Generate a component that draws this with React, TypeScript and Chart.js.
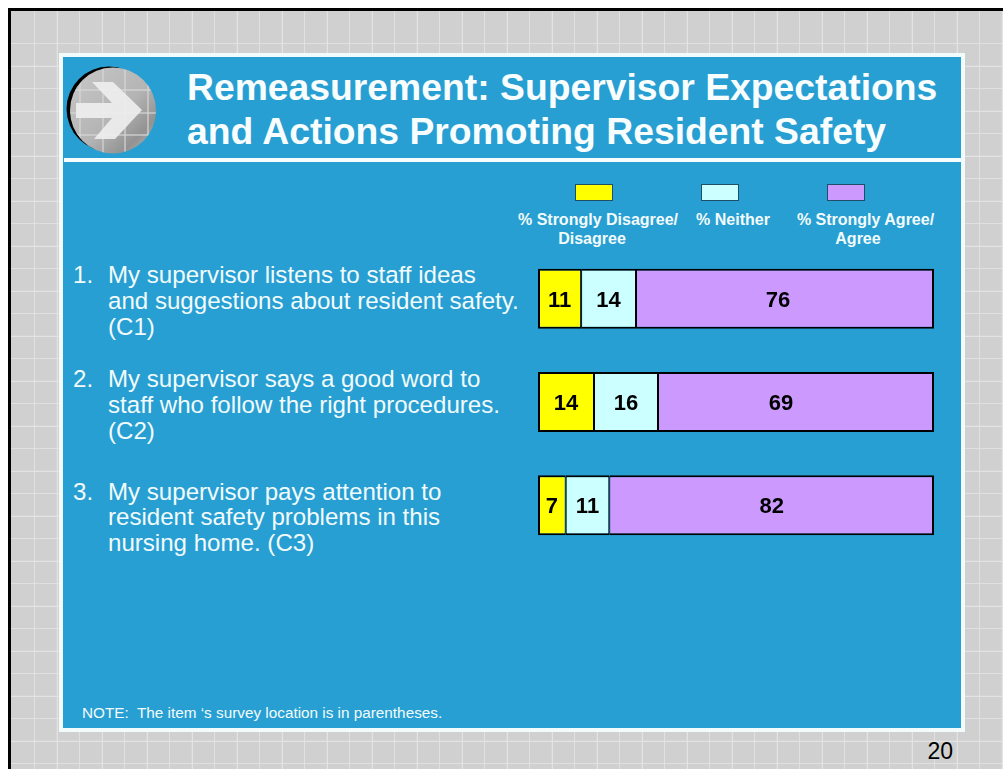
import React, { useEffect, useRef } from "react";
import { Chart, registerables } from "chart.js";

Chart.register(...registerables);

const categories = ["C1", "C2", "C3"];
const disagree = [11, 14, 7];
const neither = [14, 16, 11];
const agree = [76, 69, 82];
const seriesNames = ["% Strongly Disagree/ Disagree", "% Neither", "% Strongly Agree/ Agree"];
const seriesColors = ["#ffff00", "#ccffff", "#cc99ff"];
const rawSeries = [disagree, neither, agree];
const rowTotals = categories.map((_, i) => disagree[i] + neither[i] + agree[i]);

const questions = [
  { n: "1.", lines: ["My supervisor listens to staff ideas", "and suggestions about resident safety.", "(C1)"], top: 263, step: 26 },
  { n: "2.", lines: ["My supervisor says a good word to", "staff who follow the right procedures.", "(C2)"], top: 367, step: 26 },
  { n: "3.", lines: ["My supervisor pays attention to", "resident safety problems in this", "nursing home. (C3)"], top: 480, step: 25.3 },
];

const FONT = '"Liberation Sans", Arial, sans-serif';
const TEXT = "#f2fbfb";
const agreeLabelShift = [-7, -15, 0];

const valueLabels = {
  id: "valueLabels",
  afterDatasetsDraw(chart: any) {
    const ctx = chart.ctx;
    ctx.save();
    ctx.font = `bold 22px ${FONT}`;
    ctx.fillStyle = "#000";
    ctx.textAlign = "center";
    ctx.textBaseline = "middle";
    chart.data.datasets.forEach((_: any, d: number) => {
      chart.getDatasetMeta(d).data.forEach((bar: any, i: number) => {
        const p = bar.getProps(["x", "y", "base"], true);
        const shift = d === 2 ? agreeLabelShift[i] : 0;
        ctx.fillText(String(rawSeries[d][i]), (p.x + p.base) / 2 + shift, p.y + 2);
      });
    });
    ctx.restore();
  },
};

function Txt({ x, y, size, bold, color, children, cx }: any) {
  return (
    <div
      style={{
        position: "absolute",
        left: cx !== undefined ? cx - 150 : x,
        top: y,
        width: cx !== undefined ? 300 : undefined,
        fontFamily: FONT,
        fontSize: size,
        fontWeight: bold ? 700 : 400,
        color,
        whiteSpace: "pre",
        lineHeight: 1,
        textAlign: cx !== undefined ? "center" : "left",
      }}
    >
      {children}
    </div>
  );
}

function Icon() {
  const vs = [80, 103, 125, 148];
  const hs = [90, 113, 135];
  return (
    <svg width={1003} height={769} style={{ position: "absolute", left: 0, top: 0 }}>
      <defs>
        <linearGradient id="g" x1="0" y1="0" x2="1" y2="1">
          <stop offset="0" stopColor="#c8c8c8" />
          <stop offset="0.55" stopColor="#b4b4b4" />
          <stop offset="0.8" stopColor="#929292" />
          <stop offset="1" stopColor="#c4c4c4" />
        </linearGradient>
        <clipPath id="c">
          <circle cx={113} cy={110.5} r={43} />
        </clipPath>
      </defs>
      <circle cx={109} cy={109} r={42.5} fill="#000" />
      <circle cx={113} cy={110.5} r={43} fill="url(#g)" />
      <g clipPath="url(#c)" stroke="#d8d8d8" strokeOpacity={0.8} strokeWidth={1.5}>
        {vs.map((x) => (
          <line key={x} x1={x} x2={x} y1={60} y2={160} />
        ))}
        {hs.map((y) => (
          <line key={y} x1={60} x2={160} y1={y} y2={y} />
        ))}
      </g>
      <polygon
        points="92,82 113,82 142,110 115,139 94,139 112,118 76,118 76,103 112,103"
        fill="#eeeeee"
        fillOpacity={0.92}
      />
    </svg>
  );
}

export default function App() {
  const ref = useRef<HTMLCanvasElement>(null);
  useEffect(() => {
    const widths = [
      { top: 2, bottom: 2, left: 2, right: 1 },
      { top: 2, bottom: 2, left: 1, right: 1 },
      { top: 2, bottom: 2, left: 1, right: 2 },
    ];
    const chart = new Chart(ref.current!, {
      type: "bar",
      data: {
        labels: categories,
        datasets: rawSeries.map((vals, d) => ({
          label: seriesNames[d],
          data: vals.map((v, i) => (v / rowTotals[i]) * 100),
          backgroundColor: seriesColors[d],
          borderColor: "#000",
          borderWidth: widths[d],
          borderSkipped: false,
          inflateAmount: 0,
          barThickness: 60,
        })),
      } as any,
      options: {
        indexAxis: "y",
        responsive: false,
        animation: false,
        layout: { padding: { left: 538, right: 69, top: 247, bottom: 212 } },
        plugins: { legend: { display: false }, tooltip: { enabled: false } },
        scales: {
          x: { stacked: true, min: 0, max: 100, display: false },
          y: { stacked: true, display: false },
        },
      } as any,
      plugins: [valueLabels],
    });
    return () => chart.destroy();
  }, []);

  const swatch = (x: number, color: string) => (
    <div
      key={x}
      style={{
        position: "absolute",
        left: x,
        top: 184,
        width: 38,
        height: 17,
        boxSizing: "border-box",
        background: color,
        border: "1.5px solid #1d5068",
      }}
    />
  );

  const tile = (dir: string) =>
    `repeating-linear-gradient(${dir}, transparent 0, transparent 20.8px, #e3e3e3 21.6px, #e3e3e3 22px, transparent 22.5px)`;

  return (
    <div style={{ position: "absolute", left: 0, top: 0, width: 1003, height: 769, overflow: "hidden", background: "#fff" }}>
      <div
        style={{
          position: "absolute",
          left: 8,
          top: 8,
          width: 995,
          height: 761,
          boxSizing: "border-box",
          borderLeft: "3px solid #000",
          borderTop: "3px solid #000",
          backgroundColor: "#d0d0d0",
          backgroundImage: `${tile("90deg")}, ${tile("180deg")}`,
          backgroundPosition: "2px 11px",
        }}
      />
      <div
        style={{
          position: "absolute",
          left: 59,
          top: 53,
          width: 906,
          height: 679,
          boxSizing: "border-box",
          border: "4px solid #f2fbfb",
          background: "#289fd3",
        }}
      />
      <div style={{ position: "absolute", left: 64, top: 158, width: 897, height: 4, background: "#f6fcfc" }} />
      <Icon />
      <Txt x={187} y={69} size={37.3} bold color="#f8fdfd">Remeasurement: Supervisor Expectations</Txt>
      <Txt x={187} y={113.4} size={37.3} bold color="#f8fdfd">and Actions Promoting Resident Safety</Txt>

      {swatch(575, seriesColors[0])}
      {swatch(701, seriesColors[1])}
      {swatch(827, seriesColors[2])}
      <Txt cx={598} y={211.8} size={16} bold color={TEXT}>% Strongly Disagree/</Txt>
      <Txt cx={592} y={230.8} size={16} bold color={TEXT}>Disagree</Txt>
      <Txt cx={733} y={211.8} size={16} bold color={TEXT}>% Neither</Txt>
      <Txt cx={865.5} y={211.8} size={16} bold color={TEXT}>% Strongly Agree/</Txt>
      <Txt cx={858} y={230.8} size={16} bold color={TEXT}>Agree</Txt>

      {questions.map((q) => (
        <React.Fragment key={q.n}>
          <Txt x={73} y={q.top} size={24.1} color={TEXT}>{q.n}</Txt>
          {q.lines.map((l, i) => (
            <Txt key={i} x={108} y={q.top + i * q.step} size={24.1} color={TEXT}>{l}</Txt>
          ))}
        </React.Fragment>
      ))}

      <Txt x={82} y={705.2} size={15.3} color={TEXT}>NOTE:  The item ‘s survey location is in parentheses.</Txt>
      <Txt x={927.5} y={739.5} size={23} color="#000">20</Txt>

      <canvas ref={ref} width={1003} height={769} style={{ position: "absolute", left: 0, top: 0, display: "block" }} />
    </div>
  );
}
